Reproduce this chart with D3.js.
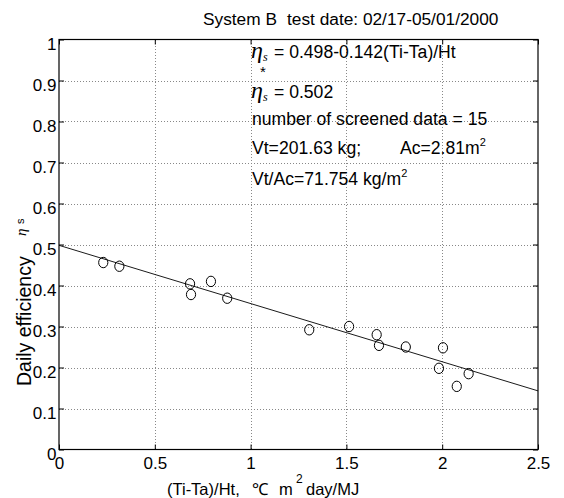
<!DOCTYPE html>
<html>
<head>
<meta charset="utf-8">
<script src="https://cdn.jsdelivr.net/npm/d3@7"></script>
<style>
  html, body { margin: 0; padding: 0; background: #fff; }
  svg { display: block; }
  text { font-family: "Liberation Sans", Arial, sans-serif; fill: #000; }
</style>
</head>
<body>
<svg id="chart" width="564" height="498"></svg>
<script>
// ---- data ----
const xValues = [0.231, 0.315, 0.684, 0.689, 0.793, 0.878, 1.306, 1.514, 1.658, 1.670, 1.810, 2.004, 1.983, 2.138, 2.076];
const yValues = [0.456, 0.447, 0.404, 0.378, 0.410, 0.369, 0.292, 0.300, 0.280, 0.254, 0.250, 0.248, 0.198, 0.185, 0.154];
const fitIntercept = 0.498;
const fitSlope = -0.142;
const xTicks = [0, 0.5, 1, 1.5, 2, 2.5];
const xTickLabels = ["0", "0.5", "1", "1.5", "2", "2.5"];
const yTicks = [0, 0.1, 0.2, 0.3, 0.4, 0.5, 0.6, 0.7, 0.8, 0.9, 1];
const yTickLabels = ["0", "0.1", "0.2", "0.3", "0.4", "0.5", "0.6", "0.7", "0.8", "0.9", "1"];

// ---- layout ----
const L = 59, R = 538, T = 39.5, B = 449.5;
const svg = d3.select("#chart");
const x = d3.scaleLinear().domain([0, 2.5]).range([L, R]);
const y = d3.scaleLinear().domain([0, 1]).range([B, T]);
const serif = "Liberation Serif, Times New Roman, serif";

// grid
const grid = svg.append("g").attr("stroke", "#888").attr("stroke-width", 1)
  .attr("stroke-dasharray", "1,2").attr("shape-rendering", "crispEdges");
grid.selectAll("line.gx").data(xTicks.slice(1, -1)).join("line")
  .attr("x1", d => Math.round(x(d)) + 0.5).attr("x2", d => Math.round(x(d)) + 0.5)
  .attr("y1", T).attr("y2", B);
grid.selectAll("line.gy").data(yTicks.slice(1, -1)).join("line")
  .attr("x1", L).attr("x2", R)
  .attr("y1", d => Math.round(y(d)) + 0.5).attr("y2", d => Math.round(y(d)) + 0.5);

// axes (inward ticks) on all four sides
const axB = svg.append("g").attr("transform", `translate(0,${B})`)
  .call(d3.axisBottom(x).tickValues(xTicks).tickSize(-5).tickPadding(0).tickFormat((d, i) => xTickLabels[i]));
const axT = svg.append("g").attr("transform", `translate(0,${T})`)
  .call(d3.axisTop(x).tickValues(xTicks).tickSize(-5).tickFormat(""));
const axL = svg.append("g").attr("transform", `translate(${L},0)`)
  .call(d3.axisLeft(y).tickValues(yTicks).tickSize(-5).tickPadding(0).tickFormat((d, i) => yTickLabels[i]));
const axR = svg.append("g").attr("transform", `translate(${R},0)`)
  .call(d3.axisRight(y).tickValues(yTicks).tickSize(-5).tickFormat(""));
[axB, axT, axL, axR].forEach(g => {
  g.select(".domain").remove();
  g.selectAll("line").attr("stroke", "#000");
});
axB.selectAll("text").attr("font-size", 17).attr("font-family", "Liberation Sans, Arial, sans-serif")
  .attr("dy", null).attr("y", 19.5);
axL.selectAll("text").attr("font-size", 17).attr("font-family", "Liberation Sans, Arial, sans-serif")
  .attr("dy", null).attr("x", -2.5).attr("y", 9.5);

// frame
svg.append("rect").attr("x", L).attr("y", T).attr("width", R - L).attr("height", B - T)
  .attr("fill", "none").attr("stroke", "#000").attr("stroke-width", 1.2);

// fit line
svg.append("line")
  .attr("x1", x(0)).attr("y1", y(fitIntercept))
  .attr("x2", x(2.5)).attr("y2", y(fitIntercept + fitSlope * 2.5))
  .attr("stroke", "#000").attr("stroke-width", 0.9);

// points
svg.append("g").selectAll("ellipse").data(xValues.map((v, i) => [v, yValues[i]])).join("ellipse")
  .attr("cx", d => x(d[0])).attr("cy", d => y(d[1]))
  .attr("rx", 4.6).attr("ry", 5.2)
  .attr("fill", "none").attr("stroke", "#000").attr("stroke-width", 1);

// title
svg.append("text").attr("x", 203).attr("y", 25).attr("font-size", 17.3).text("System B");
svg.append("text").attr("x", 287).attr("y", 25).attr("font-size", 17.3).text("test date: 02/17-05/01/2000");

// annotations
const eta1 = svg.append("text").attr("x", 251).attr("y", 58);
eta1.append("tspan").attr("font-family", serif).attr("font-style", "italic").attr("font-size", 24).text("η");
eta1.append("tspan").attr("font-family", serif).attr("font-style", "italic").attr("font-size", 12).attr("dy", 3).text("s");
eta1.append("tspan").attr("font-size", 17.6).attr("x", 274).attr("dy", -3).text("= 0.498-0.142(Ti-Ta)/Ht");

const eta2 = svg.append("text").attr("x", 251).attr("y", 98);
eta2.append("tspan").attr("font-family", serif).attr("font-style", "italic").attr("font-size", 24).text("η");
eta2.append("tspan").attr("font-family", serif).attr("font-style", "italic").attr("font-size", 12).attr("dy", 3).text("s");
eta2.append("tspan").attr("font-size", 17.6).attr("x", 274).attr("dy", -3).text("= 0.502");
svg.append("text").attr("x", 260).attr("y", 77).attr("font-size", 15).text("*");

svg.append("text").attr("x", 252).attr("y", 125).attr("font-size", 17.6).text("number of screened data = 15");
const l4 = svg.append("text").attr("x", 252).attr("y", 154).attr("font-size", 17.6);
l4.append("tspan").text("Vt=201.63 kg;");
l4.append("tspan").attr("x", 400).text("Ac=2.81m");
l4.append("tspan").attr("font-size", 11).attr("dy", -8).text("2");
const l5 = svg.append("text").attr("x", 252).attr("y", 185).attr("font-size", 17.6);
l5.append("tspan").text("Vt/Ac=71.754 kg/m");
l5.append("tspan").attr("font-size", 11).attr("dy", -8).text("2");

// x label
const xl = svg.append("text").attr("y", 495).attr("font-size", 16.5);
xl.append("tspan").attr("x", 167).text("(Ti-Ta)/Ht,");
xl.append("tspan").attr("x", 252).text("℃");
xl.append("tspan").attr("x", 279).text("m");
xl.append("tspan").attr("x", 296).attr("y", 483).attr("font-size", 12).text("2");
xl.append("tspan").attr("x", 306).attr("y", 495).text("day/MJ");

// y label
const yl = svg.append("text").attr("transform", "translate(31,386) rotate(-90)").attr("font-size", 19.5);
yl.append("tspan").text("Daily efficiency");
yl.append("tspan").attr("x", 150).attr("y", -5).attr("font-family", serif).attr("font-style", "italic").attr("font-size", 15).text("η");
yl.append("tspan").attr("x", 162).attr("y", -7).attr("font-size", 11).text("s");
</script>
</body>
</html>
